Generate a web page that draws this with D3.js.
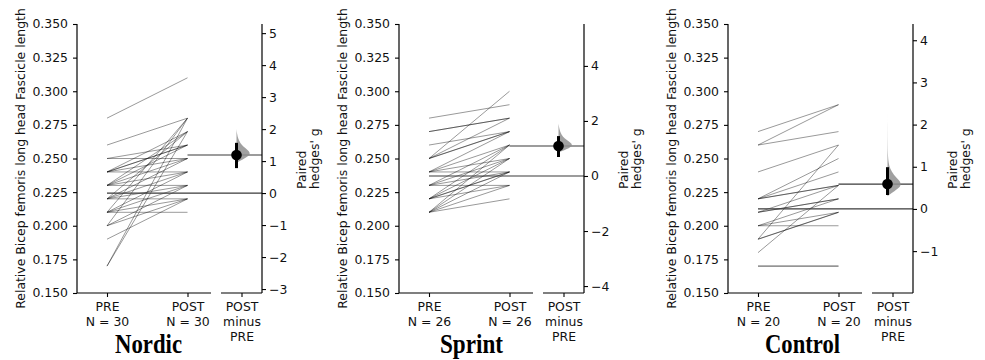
<!DOCTYPE html>
<html>
<head>
<meta charset="utf-8">
<script src="https://cdn.jsdelivr.net/npm/d3@7"></script>
<style>
  html, body { margin: 0; padding: 0; background: #fff; }
  svg { display: block; }
  text { font-family: "DejaVu Sans", sans-serif; fill: #111; }
</style>
</head>
<body>
<svg id="chart" width="985" height="360"></svg>
<script>
// ---------------- DATA ----------------
const panelTitles = ["Nordic", "Sprint", "Control"];
const conditions = ["PRE", "POST"];
const contrastLabel = ["POST", "minus", "PRE"];
const yAxisLabel = "Relative Bicep femoris long head Fascicle length";
const rightAxisLabel = ["Paired", "hedges' g"];
const leftTicks = [0.150, 0.175, 0.200, 0.225, 0.250, 0.275, 0.300, 0.325, 0.350];

const nordicPre  = [0.28, 0.26, 0.25, 0.25, 0.24, 0.24, 0.24, 0.24, 0.24, 0.23,
                    0.23, 0.23, 0.23, 0.23, 0.22, 0.22, 0.22, 0.22, 0.22, 0.21,
                    0.21, 0.21, 0.21, 0.21, 0.20, 0.20, 0.20, 0.19, 0.17, 0.17];
const nordicPost = [0.31, 0.28, 0.25, 0.26, 0.26, 0.26, 0.25, 0.24, 0.27, 0.26,
                    0.25, 0.24, 0.23, 0.27, 0.25, 0.24, 0.23, 0.22, 0.27, 0.24,
                    0.23, 0.22, 0.21, 0.28, 0.23, 0.22, 0.28, 0.22, 0.28, 0.27];

const sprintPre  = [0.28, 0.27, 0.27, 0.26, 0.25, 0.25, 0.25, 0.25, 0.24, 0.24,
                    0.24, 0.24, 0.23, 0.23, 0.23, 0.23, 0.22, 0.22, 0.22, 0.22,
                    0.22, 0.21, 0.21, 0.21, 0.21, 0.21];
const sprintPost = [0.29, 0.28, 0.28, 0.27, 0.30, 0.28, 0.27, 0.27, 0.27, 0.26,
                    0.25, 0.24, 0.26, 0.25, 0.24, 0.23, 0.26, 0.25, 0.24, 0.23,
                    0.24, 0.26, 0.24, 0.25, 0.22, 0.23];

const controlPre  = [0.27, 0.26, 0.26, 0.24, 0.22, 0.22, 0.22, 0.22, 0.21, 0.21,
                     0.21, 0.20, 0.20, 0.20, 0.19, 0.19, 0.18, 0.19, 0.17, 0.17];
const controlPost = [0.29, 0.29, 0.27, 0.26, 0.25, 0.24, 0.23, 0.23, 0.23, 0.22,
                     0.22, 0.22, 0.21, 0.20, 0.21, 0.21, 0.23, 0.26, 0.17, 0.17];

const preMeans  = [0.2243, 0.2370, 0.2125];
const postMeans = [0.2526, 0.2593, 0.2310];
const hedgesG   = [1.19, 1.09, 0.59];
const ciLow     = [0.78, 0.69, 0.33];
const ciHigh    = [1.57, 1.45, 0.99];
const rightTicks = [[-3, -2, -1, 0, 1, 2, 3, 4, 5], [-4, -2, 0, 2, 4], [-1, 0, 1, 2, 3, 4]];

// bootstrap distribution outline (g value, relative density)
const nordicViolinG  = [0.95, 1.05, 1.15, 1.25, 1.35, 1.45, 1.55, 1.70, 1.85, 2.00];
const nordicViolinD  = [0.00, 0.45, 0.85, 1.00, 0.80, 0.50, 0.28, 0.12, 0.04, 0.00];
const sprintViolinG  = [0.85, 0.95, 1.05, 1.15, 1.25, 1.35, 1.50, 1.70, 1.90];
const sprintViolinD  = [0.00, 0.50, 0.90, 1.00, 0.75, 0.45, 0.20, 0.06, 0.00];
const controlViolinG = [0.30, 0.40, 0.50, 0.60, 0.70, 0.80, 0.95, 1.10, 1.30, 1.60, 2.00, 2.30];
const controlViolinD = [0.00, 0.40, 0.85, 1.00, 0.78, 0.45, 0.18, 0.07, 0.025, 0.01, 0.004, 0.00];

const preData  = [nordicPre, sprintPre, controlPre];
const postData = [nordicPost, sprintPost, controlPost];
const violinG  = [nordicViolinG, sprintViolinG, controlViolinG];
const violinD  = [nordicViolinD, sprintViolinD, controlViolinD];

// ---------------- LAYOUT ----------------
const panelX0 = [77, 399, 728];      // left spine position of each panel
const plotTop = 24, plotBottom = 293;

const svg = d3.select("#chart");

// size text so the long y label spans the same height as in the reference (~301px)
const probe = svg.append("text").attr("font-size", 12).text(yAxisLabel);
const probeLen = probe.node().getComputedTextLength();
probe.remove();
const FS = Math.max(11, Math.min(14.5, 12 * 301 / probeLen));

const y = d3.scaleLinear().domain([0.15, 0.35]).range([plotBottom, plotTop]);

panelTitles.forEach((title, i) => {
  const x0 = panelX0[i];
  const g = svg.append("g");

  const xSlope = d3.scalePoint().domain(conditions).range([x0 + 30, x0 + 110.5]).padding(0);
  const seg1End = x0 + 134;
  const seg2Start = x0 + 144;
  const rightX = x0 + 185;
  const xC = d3.scalePoint().domain(["contrast"]).range([seg2Start, rightX]).padding(0.5);
  const cx = x0 + 159.5;

  const yG = d3.scaleLinear().domain([0, hedgesG[i]]).range([y(preMeans[i]), y(postMeans[i])]);

  // paired lines
  const pairs = preData[i].map((v, k) => [v, postData[i][k]]);
  g.append("g").selectAll("line").data(pairs).join("line")
    .attr("x1", xSlope("PRE")).attr("x2", xSlope("POST"))
    .attr("y1", d => y(d[0])).attr("y2", d => y(d[1]))
    .attr("stroke", "#000").attr("stroke-opacity", 0.4).attr("stroke-width", 1);

  // mean reference lines
  g.append("line")
    .attr("x1", xSlope("PRE")).attr("x2", rightX)
    .attr("y1", yG(0)).attr("y2", yG(0))
    .attr("stroke", "#3a3a3a").attr("stroke-width", 1.2);
  g.append("line")
    .attr("x1", xSlope("POST")).attr("x2", rightX)
    .attr("y1", yG(hedgesG[i])).attr("y2", yG(hedgesG[i]))
    .attr("stroke", "#3a3a3a").attr("stroke-width", 1.2);

  // half violin
  const vData = violinG[i].map((gv, k) => [gv, violinD[i][k]]);
  const area = d3.area()
    .y(d => yG(d[0]))
    .x0(cx)
    .x1(d => cx + 14 * d[1])
    .curve(d3.curveBasis);
  g.append("path").datum(vData).attr("d", area)
    .attr("fill", "#8f8f8f").attr("fill-opacity", 0.85);

  // CI bar + point
  g.append("line")
    .attr("x1", cx).attr("x2", cx)
    .attr("y1", yG(ciLow[i])).attr("y2", yG(ciHigh[i]))
    .attr("stroke", "#000").attr("stroke-width", 3);
  g.append("circle").attr("cx", cx).attr("cy", yG(hedgesG[i])).attr("r", 5.3).attr("fill", "#000");

  // left axis
  const ax = g.append("g").attr("transform", `translate(${x0},0)`)
    .call(d3.axisLeft(y).tickValues(leftTicks).tickFormat(d3.format(".3f")).tickSize(4).tickPadding(5));
  ax.select(".domain").remove();
  g.append("line").attr("x1", x0).attr("x2", x0).attr("y1", plotTop).attr("y2", plotBottom)
    .attr("stroke", "#000").attr("stroke-width", 1.2);

  // right axis
  const ar = g.append("g").attr("transform", `translate(${rightX},0)`)
    .call(d3.axisRight(yG).tickValues(rightTicks[i]).tickFormat(d3.format("d")).tickSize(4).tickPadding(3));
  ar.select(".domain").remove();
  g.append("line").attr("x1", rightX).attr("x2", rightX).attr("y1", plotTop).attr("y2", plotBottom)
    .attr("stroke", "#000").attr("stroke-width", 1.2);

  // bottom axes
  const ab = g.append("g").attr("transform", `translate(0,${plotBottom})`)
    .call(d3.axisBottom(xSlope).tickSize(4).tickPadding(5));
  ab.select(".domain").remove();
  ab.selectAll(".tick text").each(function (d) {
    const t = d3.select(this).text("");
    t.append("tspan").attr("x", 0).attr("dy", "0.71em").text(d);
    t.append("tspan").attr("x", 0).attr("dy", "1.2em").text("N = " + (d === "PRE" ? preData[i].length : postData[i].length));
  });
  g.append("line").attr("x1", x0).attr("x2", seg1End).attr("y1", plotBottom).attr("y2", plotBottom)
    .attr("stroke", "#000").attr("stroke-width", 1.2);

  const ac = g.append("g").attr("transform", `translate(0,${plotBottom})`)
    .call(d3.axisBottom(xC).tickSize(4).tickPadding(5));
  ac.select(".domain").remove();
  ac.selectAll(".tick text").each(function () {
    const t = d3.select(this).text("");
    contrastLabel.forEach((s, k) => {
      t.append("tspan").attr("x", 0).attr("dy", k === 0 ? "0.71em" : "1.2em").text(s);
    });
  });
  g.append("line").attr("x1", seg2Start).attr("x2", rightX).attr("y1", plotBottom).attr("y2", plotBottom)
    .attr("stroke", "#000").attr("stroke-width", 1.2);

  g.selectAll(".tick line").attr("stroke", "#000").attr("stroke-width", 1.1);
  g.selectAll(".tick text").attr("font-size", FS).attr("font-family", "DejaVu Sans").attr("fill", "#111");

  // left y label
  g.append("text")
    .attr("transform", `translate(${x0 - 57},${(plotTop + plotBottom) / 2}) rotate(-90)`)
    .attr("text-anchor", "middle").attr("dominant-baseline", "central")
    .attr("font-size", FS).text(yAxisLabel);

  // right label (two lines, bottom aligned)
  const rl = g.append("text")
    .attr("transform", `translate(${rightX + 44},189) rotate(-90)`)
    .attr("text-anchor", "start").attr("font-size", FS);
  rightAxisLabel.forEach((s, k) => {
    rl.append("tspan").attr("x", 0).attr("dy", k === 0 ? "0em" : "1.05em").text(s);
  });

  // panel title
  const titleCx = [148.5, 471.5, 802.5][i];
  const titleW = [67, 63, 75][i];
  g.append("text")
    .attr("x", titleCx).attr("y", 353)
    .attr("text-anchor", "middle")
    .attr("font-weight", "bold").attr("font-size", 28)
    .attr("textLength", titleW).attr("lengthAdjust", "spacingAndGlyphs")
    .style("font-family", "'Liberation Serif', serif")
    .style("fill", "#000")
    .text(title);
});
</script>
</body>
</html>
